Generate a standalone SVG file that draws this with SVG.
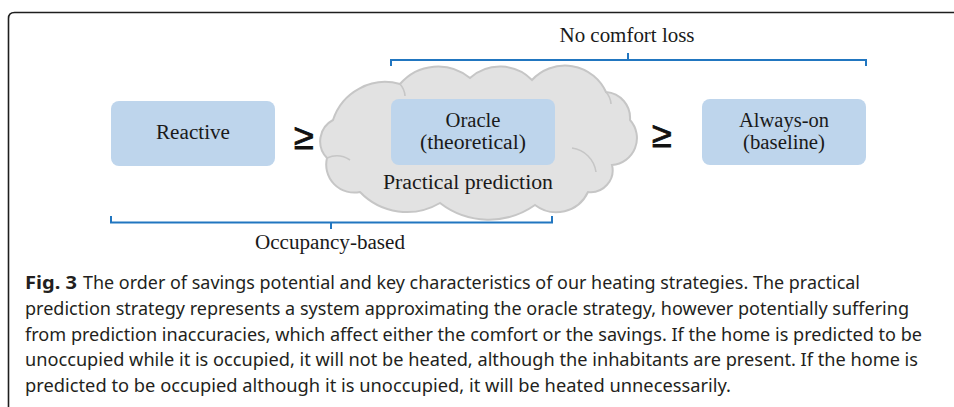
<svg xmlns="http://www.w3.org/2000/svg" width="954" height="407" viewBox="0 0 954 407">
  <style>
    .box { fill: #bed5ec; }
    .lbl { font-family: "Liberation Serif", "Times New Roman", serif; font-size: 20px; fill: #1a1a1a; text-anchor: middle; }
    .ge { font-family: "Liberation Sans", Arial, sans-serif; font-size: 36px; fill: #111; stroke: #111; stroke-width: 0.9; text-anchor: middle; }
    .brk { fill: none; stroke: #2176c0; stroke-width: 2; }
    .cap { font-family: "Noto Sans", "Open Sans", sans-serif; font-size: 18.5px; fill: #231f20; }
    .inner { fill: none; stroke: #c6c6c6; stroke-width: 1.6; }
  </style>
  <rect width="954" height="407" fill="#ffffff"/>
  <path d="M 8.5 407 V 18.5 Q 8.5 12.5 14.5 12.5 H 954" fill="none" stroke="#1e1e1e" stroke-width="1.6"/>

  <g id="cloud">
    <path d="M 333 120 A 55 55 0 0 1 400 84 A 50 50 0 0 1 470 78 A 45 45 0 0 1 532 80 A 45 45 0 0 1 606 92 A 26 26 0 0 1 630 120 A 27 27 0 0 1 612 165 A 22 22 0 0 1 588 192 A 35 35 0 0 1 535 205 A 80 80 0 0 1 440 203 A 65 65 0 0 1 360 192 A 28 28 0 0 1 327 158 A 24 24 0 0 1 333 120 Z" fill="#e2e2e2" stroke="#c6c6c6" stroke-width="2"/>
    <path class="inner" d="M 572 148 A 28 28 0 0 1 596 172"/>
    <path class="inner" d="M 327 158 A 24 24 0 0 1 350 160"/>
    <path class="inner" d="M 606 92 A 20 20 0 0 1 611 104"/>
    <path class="inner" d="M 400 84 A 20 20 0 0 1 405 96"/>
    <text class="lbl" x="468" y="189" textLength="170" lengthAdjust="spacingAndGlyphs">Practical prediction</text>
  </g>

  <g id="reactive">
    <rect class="box" x="111" y="101" width="164" height="65" rx="8"/>
    <text class="lbl" x="193" y="139" textLength="74" lengthAdjust="spacingAndGlyphs">Reactive</text>
  </g>

  <g id="oracle">
    <rect class="box" x="391" y="99" width="164" height="66" rx="8"/>
    <text class="lbl" x="473" y="127" textLength="55" lengthAdjust="spacingAndGlyphs">Oracle</text>
    <text class="lbl" x="473" y="149" textLength="106" lengthAdjust="spacingAndGlyphs">(theoretical)</text>
  </g>

  <g id="always-on">
    <rect class="box" x="702" y="99" width="164" height="66" rx="8"/>
    <text class="lbl" x="784" y="127" textLength="90" lengthAdjust="spacingAndGlyphs">Always-on</text>
    <text class="lbl" x="784" y="149" textLength="82" lengthAdjust="spacingAndGlyphs">(baseline)</text>
  </g>

  <g id="connectors">
    <text class="ge" x="304" y="149">≥</text>
    <text class="ge" x="662" y="147">≥</text>
    <path class="brk" d="M 391 66 V 60 H 866 V 66 M 628 60 V 53"/>
    <path class="brk" d="M 111 216 V 222.5 H 552 V 216 M 331 222.5 V 229"/>
  </g>

  <g id="labels">
    <text class="lbl" x="627" y="42" textLength="135" lengthAdjust="spacingAndGlyphs">No comfort loss</text>
    <text class="lbl" x="330" y="249" textLength="150" lengthAdjust="spacingAndGlyphs">Occupancy-based</text>
  </g>

  <g id="caption">
    <text class="cap" x="25" y="289" font-weight="bold" textLength="52" lengthAdjust="spacingAndGlyphs">Fig. 3</text>
    <text class="cap" x="83" y="289" textLength="777" lengthAdjust="spacingAndGlyphs">The order of savings potential and key characteristics of our heating strategies. The practical</text>
    <text class="cap" x="25" y="315" textLength="884" lengthAdjust="spacingAndGlyphs">prediction strategy represents a system approximating the oracle strategy, however potentially suffering</text>
    <text class="cap" x="25" y="341" textLength="897" lengthAdjust="spacingAndGlyphs">from prediction inaccuracies, which affect either the comfort or the savings. If the home is predicted to be</text>
    <text class="cap" x="25" y="366" textLength="893" lengthAdjust="spacingAndGlyphs">unoccupied while it is occupied, it will not be heated, although the inhabitants are present. If the home is</text>
    <text class="cap" x="25" y="392" textLength="706" lengthAdjust="spacingAndGlyphs">predicted to be occupied although it is unoccupied, it will be heated unnecessarily.</text>
  </g>
</svg>
